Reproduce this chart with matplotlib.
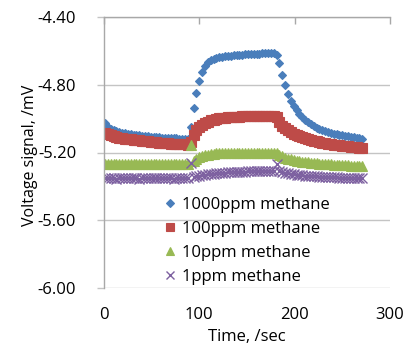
# plot.py

import matplotlib
matplotlib.use('Agg')
import matplotlib.pyplot as plt
import numpy as np

plt.rcParams['font.family'] = ['Open Sans', 'DejaVu Sans']
plt.rcParams['axes.unicode_minus'] = False

time_s = np.arange(1, 272, 3)

ppm_1000 = [
    -5.028, -5.048, -5.060, -5.068, -5.074, -5.079, -5.083, -5.087, -5.090, -5.093,
    -5.095, -5.097, -5.099, -5.101, -5.103, -5.105, -5.107, -5.108, -5.109, -5.111,
    -5.112, -5.113, -5.114, -5.115, -5.116, -5.117, -5.118, -5.119, -5.120, -5.121,
    -5.050, -4.940, -4.850, -4.775, -4.725, -4.690, -4.668, -4.656, -4.648, -4.643,
    -4.639, -4.636, -4.633, -4.631, -4.629, -4.627, -4.625, -4.624, -4.622, -4.621,
    -4.620, -4.619, -4.618, -4.617, -4.616, -4.615, -4.614, -4.613, -4.612, -4.612,
    -4.622, -4.670, -4.740, -4.800, -4.855, -4.895, -4.925, -4.950, -4.972, -4.992,
    -5.008, -5.022, -5.034, -5.044, -5.053, -5.061, -5.068, -5.074, -5.079, -5.084,
    -5.088, -5.092, -5.096, -5.099, -5.102, -5.105, -5.108, -5.111, -5.114, -5.117,
    -5.120,
]
ppm_100 = [
    -5.086, -5.093, -5.099, -5.104, -5.108, -5.112, -5.115, -5.118, -5.121, -5.123,
    -5.125, -5.127, -5.129, -5.131, -5.133, -5.135, -5.137, -5.138, -5.140, -5.141,
    -5.143, -5.144, -5.145, -5.147, -5.148, -5.149, -5.150, -5.151, -5.152, -5.154,
    -5.140, -5.098, -5.070, -5.052, -5.038, -5.027, -5.018, -5.011, -5.006, -5.002,
    -4.999, -4.996, -4.994, -4.992, -4.991, -4.990, -4.989, -4.988, -4.987, -4.986,
    -4.986, -4.985, -4.985, -4.984, -4.984, -4.984, -4.983, -4.983, -4.983, -4.983,
    -4.990, -5.020, -5.043, -5.058, -5.070, -5.080, -5.089, -5.097, -5.104, -5.110,
    -5.116, -5.121, -5.126, -5.130, -5.134, -5.138, -5.141, -5.144, -5.147, -5.150,
    -5.153, -5.155, -5.158, -5.160, -5.162, -5.164, -5.166, -5.168, -5.170, -5.172,
    -5.174,
]
ppm_10 = [
    -5.266, -5.268, -5.267, -5.269, -5.268, -5.266, -5.267, -5.269, -5.268, -5.267,
    -5.266, -5.268, -5.269, -5.267, -5.268, -5.266, -5.267, -5.269, -5.268, -5.267,
    -5.266, -5.268, -5.267, -5.269, -5.268, -5.266, -5.267, -5.268, -5.269, -5.267,
    -5.155, -5.250, -5.238, -5.228, -5.221, -5.216, -5.212, -5.209, -5.207, -5.205,
    -5.204, -5.204, -5.203, -5.203, -5.202, -5.202, -5.202, -5.201, -5.201, -5.201,
    -5.201, -5.200, -5.200, -5.200, -5.200, -5.200, -5.200, -5.200, -5.200, -5.200,
    -5.203, -5.212, -5.222, -5.230, -5.236, -5.241, -5.245, -5.248, -5.251, -5.254,
    -5.256, -5.258, -5.260, -5.262, -5.264, -5.265, -5.267, -5.268, -5.269, -5.270,
    -5.271, -5.272, -5.273, -5.274, -5.275, -5.276, -5.277, -5.278, -5.278, -5.279,
    -5.280,
]
ppm_1 = [
    -5.352, -5.353, -5.351, -5.352, -5.354, -5.352, -5.351, -5.353, -5.352, -5.351,
    -5.353, -5.352, -5.354, -5.352, -5.351, -5.353, -5.352, -5.351, -5.352, -5.353,
    -5.352, -5.351, -5.353, -5.352, -5.354, -5.352, -5.351, -5.352, -5.353, -5.352,
    -5.262, -5.345, -5.340, -5.336, -5.333, -5.330, -5.328, -5.326, -5.324, -5.322,
    -5.321, -5.320, -5.319, -5.318, -5.317, -5.316, -5.315, -5.314, -5.313, -5.313,
    -5.312, -5.311, -5.311, -5.310, -5.310, -5.309, -5.309, -5.308, -5.308, -5.307,
    -5.270, -5.312, -5.316, -5.320, -5.323, -5.326, -5.328, -5.330, -5.332, -5.334,
    -5.336, -5.337, -5.339, -5.340, -5.341, -5.342, -5.343, -5.344, -5.345, -5.346,
    -5.347, -5.347, -5.348, -5.349, -5.349, -5.350, -5.350, -5.351, -5.351, -5.352,
    -5.352,
]

labels = ['1000ppm methane', '100ppm methane', '10ppm methane', '1ppm methane']
y_ticks = [-6.00, -5.60, -5.20, -4.80, -4.40]
x_ticks = [0, 100, 200, 300]

GRID = '#c4c4c4'
AXIS = '#a8a8a8'
FS = 12

def draw_series(ax):
    ''' Excel-style marker-only series, drawn in order so later ones sit on top. '''
    styles = [
        dict(marker = 'D', ms = 4.4, color = '#4a7ebb', mew = 0.8),
        dict(marker = 's', ms = 7.4, color = '#be4b48', mew = 0.8),
        dict(marker = '^', ms = 7.2, color = '#98b954', mew = 0.8),
        dict(marker = 'x', ms = 6.5, color = '#7d60a0', mew = 1.0),
    ]
    for vals, lab, st in zip([ppm_1000, ppm_100, ppm_10, ppm_1], labels, styles):
        ax.plot(time_s, vals, ls = 'none', label = lab, **st)

    return;

def style_axes(ax):
    ax.set_xlim(0, 300)
    ax.set_ylim(-6.0, -4.4)

    for side in ('right', 'bottom'):
        ax.spines[side].set_visible(False)
    for side in ('left', 'top'):
        ax.spines[side].set_color(AXIS)
        ax.spines[side].set_linewidth(1.0)

    ax.set_yticks(y_ticks)
    ax.set_yticklabels([f'{v:.2f}' for v in y_ticks])
    ax.set_xticks(x_ticks)
    ax.set_xticklabels([str(v) for v in x_ticks])

    ax.yaxis.grid(True, color = GRID, lw = 1.0)
    ax.set_axisbelow(True)

    # x axis line sits on top, labels stay below
    ax.tick_params(axis = 'x', bottom = False, top = True, labelbottom = True,
                   labeltop = False, direction = 'in', length = 5, width = 1,
                   color = AXIS, pad = 14, labelsize = FS)
    ax.tick_params(axis = 'y', direction = 'out', length = 5, width = 1,
                   color = GRID, pad = 15, labelsize = FS)

    ax.set_ylabel('Voltage signal, /mV', fontsize = 11.5)
    ax.yaxis.set_label_coords(-0.23, 0.49)
    ax.set_xlabel('Time, /sec', fontsize = FS, va = 'bottom')
    ax.xaxis.set_label_coords(0.5, -0.21)

    return;

def main():
    fig = plt.figure(figsize = (4.06, 3.47), dpi = 100)
    ax = fig.add_axes([104 / 406, 1 - 288 / 347, 286 / 406, 271 / 347])

    draw_series(ax)
    style_axes(ax)

    ax.legend(loc = 'upper left', bbox_to_anchor = (0.215, 0.335), frameon = False,
              fontsize = FS, handlelength = 0.6, handletextpad = 0.4,
              labelspacing = 0.48, borderaxespad = 0, borderpad = 0,
              markerscale = 0.85)

    fig.savefig('out.png', dpi = 100)

    return;

if __name__ == '__main__':
    main()
